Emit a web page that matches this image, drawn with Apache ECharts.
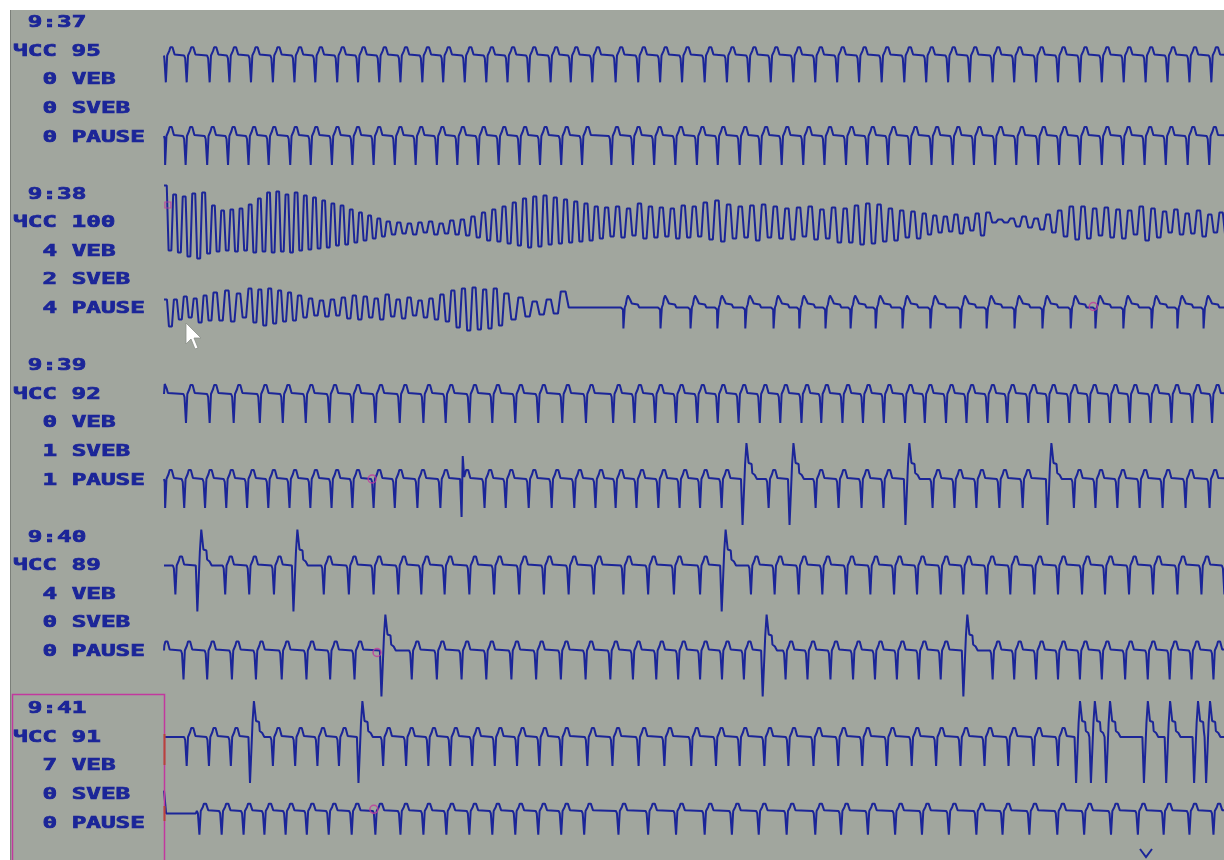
<!DOCTYPE html>
<html>
<head>
<meta charset="utf-8">
<script src="https://cdn.jsdelivr.net/npm/echarts@6.0.0/dist/echarts.min.js"></script>
<style>
  html, body { margin: 0; padding: 0; background: #fff; }
  #main { width: 1224px; height: 860px; }
</style>
</head>
<body>
<div id="main"></div>
<script>
// --- summary per minute (left column) ---
const minutes = ['9:37', '9:38', '9:39', '9:40', '9:41'];
const heartRate = [95, 100, 92, 89, 91];
const vebCount = [0, 4, 0, 4, 7];
const svebCount = [0, 2, 1, 0, 0];
const pauseCount = [0, 4, 1, 0, 0];
const selectedMinute = 4;

// --- beat shapes: [offset s, mV] ---
const normalBeat = [[-0.06, 0], [-0.03, -0.3], [0, -0.3], [0.012, -2.9], [0.035, -2.9], [0.05, 0], [0.085, 0.1], [0.11, 0.5], [0.14, 0.9], [0.17, 1.0], [0.2, 0.9], [0.23, 0.5], [0.26, 0.1], [0.29, 0]];
const smallBeat = [[-0.06, 0], [-0.03, -0.2], [0, -0.2], [0.012, -2.1], [0.035, -2.1], [0.05, 0], [0.08, 0.3], [0.11, 0.9], [0.14, 1.2], [0.17, 1.2], [0.2, 0.8], [0.25, 0.4], [0.42, 0.3], [0.46, 0]];
const ventricularBeat = [[-0.03, 0], [0, -0.2], [0.014, -4.6], [0.042, -4.6], [0.057, -1], [0.085, 1.4], [0.11, 1.5], [0.125, 3.6], [0.17, 3.6], [0.185, 1.6], [0.27, 1.5], [0.29, 0.6], [0.36, 0.4], [0.42, 0]];
const supraBeat = [[-0.03, 0], [0, -0.2], [0.012, -3.8], [0.035, -3.8], [0.045, 2.3], [0.07, 2.3], [0.085, 0.2], [0.11, 0.5], [0.14, 0.9], [0.17, 1.0], [0.2, 0.9], [0.23, 0.5], [0.26, 0.1], [0.29, 0]];

// --- beat times (s) per strip ---
const beats937a = [0.04, 0.63, 1.28, 1.84, 2.45, 3.07, 3.68, 4.27, 4.89, 5.48, 6.08, 6.68, 7.30, 7.89, 8.50, 9.11, 9.71, 10.31, 10.93, 11.50, 12.11, 12.77, 13.41, 14.03, 14.65, 15.29, 15.92, 16.54, 17.16, 17.80, 18.42, 19.04, 19.66, 20.30, 20.94, 21.56, 22.18, 22.79, 23.44, 24.05, 24.67, 25.29, 25.91, 26.53, 27.15, 27.77, 28.39, 29.01, 29.63];
const beats937b = [0.02, 0.60, 1.21, 1.80, 2.38, 2.95, 3.56, 4.14, 4.74, 5.32, 5.92, 6.52, 7.11, 7.71, 8.29, 8.88, 9.46, 10.05, 10.63, 11.23, 11.82, 12.65, 13.26, 13.86, 14.46, 15.07, 15.66, 16.28, 16.87, 17.47, 18.08, 18.68, 19.29, 19.89, 20.48, 21.10, 21.71, 22.31, 22.91, 23.51, 24.11, 24.73, 25.32, 25.91, 26.53, 27.13, 27.74, 28.34, 28.96, 29.57];

// fibrillation cycles: [duration s, peak mV, trough mV]
const vf938a = [
  [0.26, 3.7, -2.8], [0.27, 2.8, -3.0], [0.27, 2.6, -3.4], [0.28, 2.9, -3.6], [0.28, 3.0, -3.1],
  [0.26, 1.7, -2.9], [0.26, 1.2, -2.8], [0.26, 1.3, -2.9], [0.26, 1.4, -2.8], [0.26, 1.8, -3.0], [0.26, 2.4, -2.9],
  [0.26, 3.0, -3.0], [0.26, 3.1, -2.9], [0.26, 2.8, -3.0], [0.26, 3.0, -2.8], [0.26, 2.7, -2.7], [0.26, 2.5, -2.6],
  [0.26, 2.2, -2.5], [0.26, 1.9, -2.3], [0.26, 1.7, -2.2], [0.26, 1.3, -2.0], [0.26, 1.0, -1.8], [0.26, 0.7, -1.6], [0.26, 0.4, -1.4],
  [0.30, 0.1, -1.2], [0.30, 0.0, -1.1], [0.30, -0.1, -1.2], [0.30, 0.0, -1.0], [0.30, 0.1, -1.2], [0.30, -0.1, -1.1], [0.30, 0.2, -1.2], [0.30, 0.3, -1.3], [0.30, 0.6, -1.5],
  [0.29, 1.0, -1.8], [0.29, 1.3, -1.9], [0.29, 1.6, -2.1], [0.29, 2.0, -2.3], [0.29, 2.4, -2.5], [0.29, 2.6, -2.4], [0.29, 2.7, -2.2], [0.29, 2.5, -2.1], [0.29, 2.3, -2.0], [0.29, 2.1, -1.9], [0.29, 1.9, -1.8], [0.29, 1.6, -1.6],
  [0.31, 1.5, -1.4], [0.31, 1.6, -1.5], [0.31, 1.4, -1.3], [0.31, 1.9, -1.6], [0.31, 1.6, -1.5], [0.31, 1.5, -1.4], [0.31, 1.4, -1.6], [0.31, 1.7, -1.5], [0.31, 1.6, -1.4],
  [0.33, 2.0, -1.7], [0.33, 2.2, -1.9], [0.33, 1.8, -1.6], [0.33, 1.6, -1.5], [0.33, 1.7, -1.8], [0.33, 1.8, -1.5], [0.33, 1.6, -1.6], [0.33, 1.4, -1.7], [0.33, 1.5, -1.4], [0.33, 1.6, -1.7], [0.33, 1.3, -1.6], [0.33, 1.5, -2.0],
  [0.32, 1.4, -2.0], [0.32, 1.7, -2.2], [0.32, 1.9, -2.1], [0.32, 1.8, -1.9], [0.32, 1.4, -1.8], [0.32, 1.2, -1.5], [0.32, 1.1, -1.6],
  [0.30, 0.9, -1.2], [0.30, 0.7, -1.0], [0.30, 0.6, -0.9], [0.30, 0.8, -1.1], [0.30, 0.5, -0.8], [0.30, 0.9, -1.3],
  [0.34, 1.0, 0.0], [0.34, 0.3, 0.0], [0.34, 0.4, -0.4], [0.34, 0.6, -0.5], [0.34, 0.4, -0.7],
  [0.33, 0.8, -1.0], [0.33, 1.2, -1.4], [0.33, 1.6, -1.7], [0.33, 1.6, -1.6], [0.33, 1.4, -1.3], [0.33, 1.5, -1.5], [0.33, 1.3, -1.6], [0.33, 1.2, -1.2], [0.33, 1.6, -1.8], [0.33, 1.4, -1.5],
  [0.32, 1.1, -1.0], [0.32, 1.3, -1.2], [0.32, 0.9, -1.1], [0.32, 1.2, -1.4], [0.32, 0.8, -1.0], [0.32, 1.0, -1.2]
];
const vf938b = [
  [0.28, 0.8, -1.9], [0.28, 0.8, -1.2], [0.28, 1.1, -1.0], [0.28, 0.9, -1.5], [0.28, 1.2, -1.3],
  [0.33, 1.5, -1.3], [0.33, 1.7, -1.4], [0.33, 1.4, -1.0],
  [0.28, 1.9, -1.5], [0.28, 1.8, -1.8], [0.28, 1.9, -1.6], [0.28, 1.7, -1.4], [0.28, 1.5, -1.3],
  [0.31, 1.2, -1.0], [0.31, 0.9, -0.8], [0.31, 0.7, -0.9], [0.31, 0.8, -0.8], [0.31, 1.0, -1.1], [0.31, 1.2, -1.2],
  [0.31, 1.1, -1.0], [0.31, 0.9, -1.2], [0.31, 1.3, -0.9], [0.31, 0.8, -1.1], [0.31, 1.0, -0.8], [0.31, 0.7, -1.0], [0.31, 0.9, -1.2], [0.31, 1.3, -1.4],
  [0.30, 1.7, -2.0], [0.30, 1.9, -2.3], [0.30, 2.0, -2.2], [0.30, 1.8, -2.1], [0.30, 1.9, -1.8],
  [0.40, 1.4, -1.2], [0.40, 1.0, -0.9], [0.40, 0.6, -0.7], [0.40, 0.8, -0.6], [0.45, 1.6, 0.0]
];
const beats938b = [12.99, 14.04, 14.89, 15.65, 16.44, 17.24, 17.97, 18.71, 19.42, 20.13, 20.89, 21.68, 22.53, 23.27, 24.06, 24.85, 25.65, 26.35, 27.14, 27.94, 28.67, 29.41];

const beats939a = [-0.15, 0.61, 1.28, 1.96, 2.70, 3.35, 4.00, 4.67, 5.32, 5.97, 6.66, 7.33, 7.96, 8.63, 9.28, 9.93, 10.58, 11.26, 11.93, 12.70, 13.30, 13.89, 14.48, 15.08, 15.66, 16.25, 16.85, 17.43, 18.03, 18.59, 19.19, 19.77, 20.36, 20.96, 21.52, 22.12, 22.70, 23.29, 23.85, 24.45, 25.01, 25.61, 26.17, 26.76, 27.32, 27.91, 28.50, 29.09, 29.65];
const beats939b = [0.02, 0.56, 1.15, 1.75, 2.34, 2.94, 3.54, 4.13, 4.73, 5.32, 5.92, 6.52, 7.16, 7.81, 9.06, 9.66, 10.31, 10.96, 11.60, 12.20, 12.77, 13.36, 13.98, 14.58, 15.16, 15.77, 17.10, 18.43, 19.08, 19.73, 20.35, 21.74, 22.36, 22.98, 23.63, 24.29, 25.74, 26.35, 26.97, 27.60, 28.25, 28.90, 29.58];
const pvc939b = [16.36, 17.69, 20.97, 24.99];
const sveb939b = [8.41];

const beats940a = [0.31, 1.72, 2.40, 3.10, 4.51, 5.22, 5.92, 6.62, 7.27, 7.93, 8.63, 9.33, 10.04, 10.74, 11.44, 12.15, 12.99, 13.69, 14.42, 15.16, 16.60, 17.27, 17.95, 18.62, 19.30, 19.98, 20.65, 21.30, 21.97, 22.61, 23.27, 23.94, 24.62, 25.29, 25.97, 26.62, 27.30, 27.98, 28.67, 29.35, 30.0];
const pvc940a = [0.93, 3.65, 15.77];
const beats940b = [-0.1, 0.54, 1.21, 1.91, 2.59, 3.32, 4.02, 4.69, 5.38, 7.00, 7.71, 8.41, 9.11, 9.82, 10.52, 11.22, 11.92, 12.62, 13.26, 13.92, 14.54, 15.16, 15.78, 16.40, 17.58, 18.20, 18.85, 19.49, 20.11, 20.73, 21.35, 21.97, 23.44, 24.05, 24.67, 25.29, 25.91, 26.53, 27.19, 27.83, 28.45, 29.07, 29.69];
const pvc940b = [6.14, 16.93, 22.61];

const beats941a = [0.63, 1.26, 1.88, 3.07, 3.70, 4.33, 4.94, 6.19, 6.84, 7.47, 8.09, 8.71, 9.35, 9.98, 10.61, 11.23, 11.97, 12.68, 13.42, 14.15, 14.91, 15.61, 16.28, 16.98, 17.66, 18.37, 19.07, 19.75, 20.45, 21.15, 21.84, 22.53, 23.21, 23.89, 24.60, 25.29];
const pvc941a = [2.42, 5.49, 25.80, 26.22, 26.65, 27.72, 28.35, 29.14, 29.48];
const beats941b = [0.99, 1.62, 2.24, 2.83, 3.43, 4.03, 4.65, 5.30, 5.97, 6.68, 7.33, 7.98, 8.63, 9.28, 9.93, 10.58, 11.23, 11.88, 12.85, 13.69, 14.48, 15.29, 16.06, 16.82, 17.61, 18.42, 19.15, 19.91, 20.68, 21.44, 22.20, 22.98, 23.72, 24.48, 25.27, 26.03, 26.79, 27.55, 28.28, 29.01, 29.69];
const lead941b = [[0, 2.5], [0.03, 2.4], [0.06, -0.3], [0.9, -0.3], [0.93, 0]];

// event marks on strips: [strip, s, mV]
const ringMarks = [[3, 26.30, 0.1], [5, 5.89, 0.0], [7, 6.03, -0.2], [9, 5.94, 0.2]];
const squareMarks = [[2, 0.11, 1.75]];

// --- strip table (two strips per minute) ---
const strips = [
  { n: beats937a },
  { n: beats937b },
  { vf: vf938a },
  { vf: vf938b, small: beats938b },
  { n: beats939a },
  { n: beats939b, v: pvc939b, s: sveb939b },
  { n: beats940a, v: pvc940a },
  { n: beats940b, v: pvc940b },
  { n: beats941a, v: pvc941a },
  { n: beats941b, lead: lead941b }
];

function composeStrip(def) {
  const events = [];
  (def.n || []).forEach(t => events.push([t, normalBeat]));
  (def.small || []).forEach(t => events.push([t, smallBeat]));
  (def.v || []).forEach(t => events.push([t, ventricularBeat]));
  (def.s || []).forEach(t => events.push([t, supraBeat]));
  events.sort((a, b) => a[0] - b[0]);

  const pts = [];
  if (def.lead) def.lead.forEach(p => pts.push(p.slice()));
  if (def.vf) {
    let t = 0;
    def.vf.forEach(([d, hi, lo]) => {
      pts.push([t, hi], [t + d * 0.3, hi], [t + d * 0.5, lo], [t + d * 0.8, lo]);
      t += d;
    });
    pts.push([t, 0]);
  }
  if (!pts.length) pts.push([0, 0]);

  events.forEach(([t0, shape], i) => {
    const next = events[i + 1];
    const limit = next ? next[0] + next[1][0][0] : Infinity;
    shape.forEach(([dt, v]) => {
      const t = t0 + dt;
      if (t < limit && t > pts[pts.length - 1][0]) pts.push([t, v]);
    });
  });
  if (pts[pts.length - 1][0] < 30.5) pts.push([30.5, 0]);
  return pts;
}

const traceColor = '#1b2598';
const markColor = '#c2389e';
const stripLeft = 164;
const stripWidth = 1060;

function baselineY(i) {
  return 51 + 171.5 * Math.floor(i / 2) + (i % 2) * 85;
}

const grid = [], xAxis = [], yAxis = [], series = [];
strips.forEach((def, i) => {
  grid.push({ left: stripLeft, top: baselineY(i) - 60, width: stripWidth, height: 120 });
  xAxis.push({ type: 'value', gridIndex: i, min: 0, max: 30, show: false });
  yAxis.push({ type: 'value', gridIndex: i, min: -6, max: 6, show: false });
  series.push({
    type: 'line',
    xAxisIndex: i,
    yAxisIndex: i,
    data: composeStrip(def),
    showSymbol: false,
    symbol: 'none',
    clip: true,
    lineStyle: { color: traceColor, width: 2 },
    z: 3
  });
});

strips.forEach((def, i) => {
  const rings = ringMarks.filter(m => m[0] === i).map(m => [m[1], m[2]]);
  const squares = squareMarks.filter(m => m[0] === i).map(m => [m[1], m[2]]);
  if (rings.length) {
    series.push({
      type: 'scatter', xAxisIndex: i, yAxisIndex: i, data: rings,
      symbol: 'circle', symbolSize: 8, z: 4,
      itemStyle: { color: 'transparent', borderColor: markColor, borderWidth: 1.5 }
    });
  }
  if (squares.length) {
    series.push({
      type: 'scatter', xAxisIndex: i, yAxisIndex: i, data: squares,
      symbol: 'rect', symbolSize: 6, z: 4,
      itemStyle: { color: 'transparent', borderColor: markColor, borderWidth: 1.2 }
    });
  }
});

// left column text, monospaced grid like the device font
const colPitch = 14.7;
const colX = c => 13 + c * colPitch;
const graphics = [
  { type: 'rect', shape: { x: 10, y: 10, width: 1214, height: 850 }, style: { fill: '#a1a69e' }, z: 0, silent: true },
  { type: 'line', shape: { x1: 10.5, y1: 10, x2: 10.5, y2: 860 }, style: { stroke: '#7b7f79', lineWidth: 1 }, z: 1, silent: true }
];
function addText(str, col, y) {
  graphics.push({
    type: 'text', x: colX(col), y: y, scaleX: 1.52, z: 5, silent: true,
    style: {
      text: str, fill: traceColor, stroke: traceColor, lineWidth: 0.7,
      font: 'bold 16px "DejaVu Sans Mono"',
      textVerticalAlign: 'middle', verticalAlign: 'middle'
    }
  });
}
minutes.forEach((m, b) => {
  const top = 23 + 171.5 * b;
  addText(m, 1, top);
  addText('ЧСС ' + heartRate[b], 0, top + 28.6);
  addText(vebCount[b] + ' VEB', 2, top + 57.2);
  addText(svebCount[b] + ' SVEB', 2, top + 85.8);
  addText(pauseCount[b] + ' PAUSE', 2, top + 114.4);
});

// highlight frame of the current minute
const selTop = 694.5 + 171.5 * (selectedMinute - 4);
graphics.push({
  type: 'rect', shape: { x: 12.5, y: selTop, width: 152, height: 180 }, z: 6, silent: true,
  style: { fill: 'none', stroke: markColor, lineWidth: 1.5 }
});
graphics.push(
  { type: 'line', shape: { x1: 164.5, y1: 734, x2: 164.5, y2: 765 }, style: { stroke: '#b8453a', lineWidth: 2 }, z: 6, silent: true },
  { type: 'line', shape: { x1: 164.5, y1: 806, x2: 164.5, y2: 821 }, style: { stroke: '#b8453a', lineWidth: 2 }, z: 6, silent: true },
  { type: 'polyline', shape: { points: [[1140, 849], [1146, 857], [1152, 849]] }, style: { stroke: traceColor, lineWidth: 2, fill: 'none' }, z: 6, silent: true },
  // mouse pointer
  {
    type: 'polygon', z: 10, silent: true,
    shape: { points: [[186, 323], [186, 344], [191, 339], [195, 349], [198, 348], [194, 338], [201, 338]] },
    style: { fill: '#ffffff', stroke: '#8a8f88', lineWidth: 0.8 }
  }
);

const chart = echarts.init(document.getElementById('main'));
chart.setOption({
  backgroundColor: '#ffffff',
  animation: false,
  grid: grid,
  xAxis: xAxis,
  yAxis: yAxis,
  series: series,
  graphic: { elements: graphics }
});
window.addEventListener('resize', () => chart.resize());
</script>
</body>
</html>
